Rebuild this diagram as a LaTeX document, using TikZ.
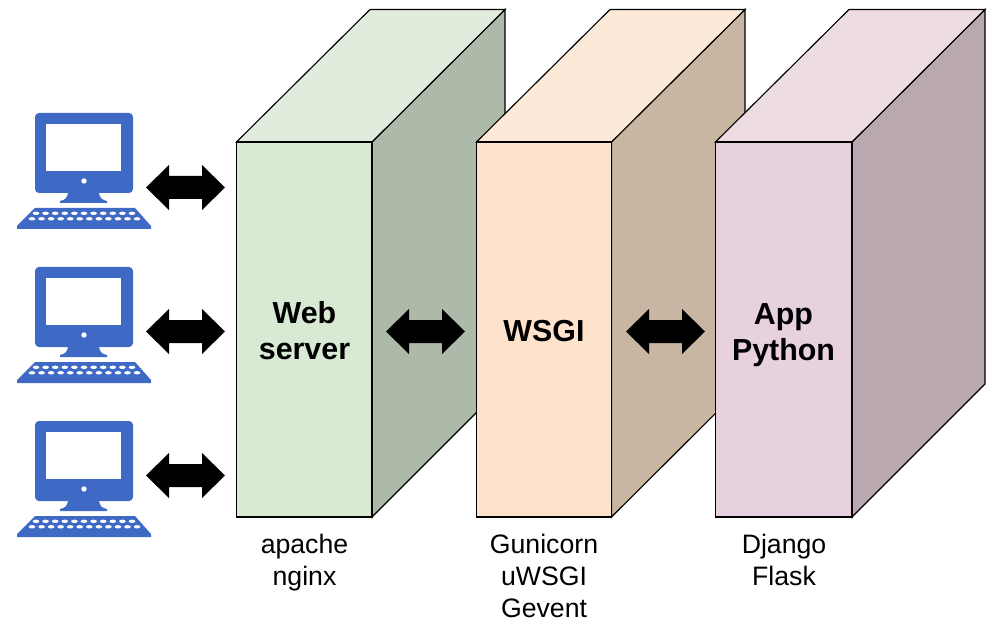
\documentclass[tikz,border=0pt]{standalone}
\usepackage{fontspec}
\setmainfont{Liberation Sans}
\definecolor{gfront}{HTML}{D8E9D4}
\definecolor{gtop}{HTML}{E2ECDD}
\definecolor{gside}{HTML}{AEBAA9}
\definecolor{ofront}{HTML}{FDE3CB}
\definecolor{otop}{HTML}{FCE9D8}
\definecolor{oside}{HTML}{C8B6A2}
\definecolor{pfront}{HTML}{E8D1DE}
\definecolor{ptop}{HTML}{EEDCE5}
\definecolor{pside}{HTML}{BAA8B1}
\definecolor{pcblue}{HTML}{3E69C4}
\tikzset{
  x=0.75pt,y=-0.75pt,
  edge/.style={draw=black,line width=0.85pt,line join=miter},
  title/.style={font=\fontsize{22.8pt}{27pt}\selectfont\bfseries,align=center,inner sep=0pt},
  caption/.style={font=\fontsize{20pt}{24pt}\selectfont,align=center,inner sep=0pt,anchor=north},
  pics/pc/.style={code={
    \fill[pcblue,rounded corners=3pt] (35,0) rectangle (133,80);
    \fill[white] (46,11) rectangle (121,58);
    \fill[white] (84,68) circle (2.7);
    \fill[pcblue] (68,78) -- (99,78) .. controls (99,85) and (102,87) .. (107,88) -- (107,90) -- (60,90) -- (60,88) .. controls (65,87) and (68,85) .. (68,78) -- cycle;
    \fill[pcblue] (35,95) -- (135,95) -- (151,113) -- (151,116) -- (17,116) -- (17,113) -- cycle;
    \foreach \i in {0,...,10}{
      \fill[white] (36+9.6*\i,100.3) ellipse (3.3 and 1.7);
    }
    \foreach \i in {0,...,11}{
      \fill[white] (32+9.55*\i,105.8) ellipse (3.3 and 1.7);
    }
  }},
  pics/darrow/.style={code={
    \fill[black] (0,0) -- (23,-22.5) -- (23,-11.5) -- (56,-11.5) -- (56,-22.5) -- (79,0) -- (56,22.5) -- (56,11.5) -- (23,11.5) -- (23,22.5) -- cycle;
  }}
}
\begin{document}
\begin{tikzpicture}
\useasboundingbox (0,0) rectangle (992,627);
% web server box
\path[fill=gside,edge] (372,142) -- (505,9.5) -- (505,384) -- (372,517) -- cycle;
\path[fill=gtop,edge] (236.5,142) -- (370,9.5) -- (505,9.5) -- (372,142) -- cycle;
\node[fill=gfront,edge,minimum width=135.5*0.75pt,minimum height=375*0.75pt,inner sep=0pt,outer sep=0pt,anchor=north west] (web) at (236.5,142) {};
% WSGI box
\path[fill=oside,edge] (611.5,142) -- (745,9.5) -- (745,384) -- (611.5,517) -- cycle;
\path[fill=otop,edge] (476.5,142) -- (610,9.5) -- (745,9.5) -- (611.5,142) -- cycle;
\node[fill=ofront,edge,minimum width=135*0.75pt,minimum height=375*0.75pt,inner sep=0pt,outer sep=0pt,anchor=north west] (wsgi) at (476.5,142) {};
% App box
\path[fill=pside,edge] (852,142) -- (985,9.5) -- (985,384) -- (852,517) -- cycle;
\path[fill=ptop,edge] (715.5,142) -- (849,9.5) -- (985,9.5) -- (852,142) -- cycle;
\node[fill=pfront,edge,minimum width=136.5*0.75pt,minimum height=375*0.75pt,inner sep=0pt,outer sep=0pt,anchor=north west] (app) at (715.5,142) {};
% computers
\pic at (0,113) {pc};
\pic at (0,267) {pc};
\pic at (0,421) {pc};
% arrows
\pic at (146,187.5) {darrow};
\pic at (146,331.5) {darrow};
\pic at (146,475.5) {darrow};
\pic at (386,331.5) {darrow};
\pic at (626,331.5) {darrow};
% titles
\node[title] (webt) at (304.5,330.5) {Web\\server};
\node[title] (wsgit) at (544,331) {WSGI};
\node[title] (appt) at (783.5,335) {App\\Python};
% captions
\node[caption] (webc) at (304.5,534) {apache\\nginx};
\node[caption] (wsgic) at (544,534) {Gunicorn\\uWSGI\\Gevent};
\node[caption] (appc) at (784,534) {Django\\Flask};
\end{tikzpicture}
\end{document}
